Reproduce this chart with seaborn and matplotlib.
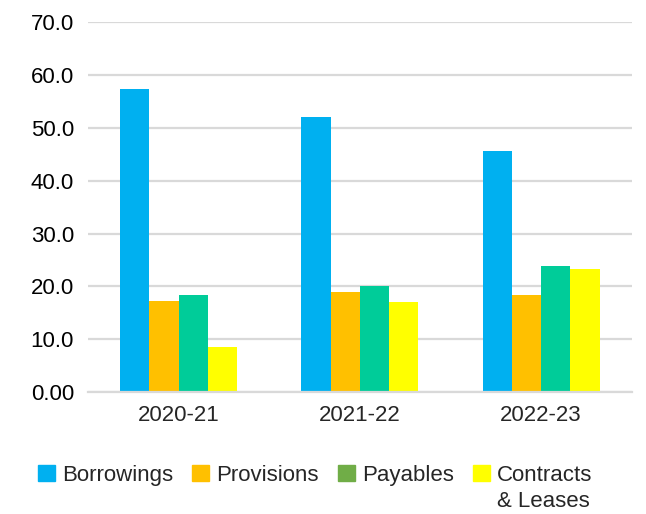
import pandas as pd
import matplotlib
matplotlib.use("Agg")
import matplotlib.pyplot as plt
import matplotlib.patches as mpatches
from matplotlib.ticker import FixedLocator, FuncFormatter
import seaborn as sns

years = ["2020-21", "2021-22", "2022-23"]
borrowings = [57.4, 52.1, 45.6]
provisions = [17.3, 18.9, 18.4]
payables = [18.4, 20.1, 23.9]
contracts = [8.6, 17.0, 23.3]

series_names = ["Borrowings", "Provisions", "Payables", "Contracts & Leases"]
legend_labels = ["Borrowings", "Provisions", "Payables", "Contracts"]
bar_colors = ["#00B0F0", "#FFC000", "#00CC99", "#FFFF00"]
legend_colors = ["#00B0F0", "#FFC000", "#70AD47", "#FFFF00"]

rows = []
for name, vals in zip(series_names, [borrowings, provisions, payables, contracts]):
    for yr, v in zip(years, vals):
        rows.append({"year": yr, "series": name, "value": v})
df = pd.DataFrame(rows)

sns.set_style("white")
plt.rcParams["font.family"] = ["Liberation Sans", "DejaVu Sans"]

fig = plt.figure(figsize=(6.46, 5.14), dpi=100)
ax = fig.add_axes([0.136, 0.237, 0.842, 0.72])

sns.barplot(data=df, x="year", y="value", hue="series", hue_order=series_names,
            palette=bar_colors, width=0.646, gap=0, saturation=1, ax=ax,
            edgecolor="none", linewidth=0)
ax.get_legend().remove()

ax.set_ylim(0, 70)
ax.set_xlim(-0.5, 2.5)
ax.set_yticks(range(0, 71, 10))
ax.yaxis.set_major_formatter(FuncFormatter(lambda v, p: "0.00" if v == 0 else f"{v:.1f}"))
ax.grid(axis="y", color="#d9d9d9", linewidth=1.6)
ax.set_axisbelow(True)
ax.set_xlabel("")
ax.set_ylabel("")

for s in ["top", "right", "left"]:
    ax.spines[s].set_visible(False)
ax.spines["bottom"].set_color("#d9d9d9")
ax.spines["bottom"].set_linewidth(1.6)

ax.tick_params(axis="y", length=0, labelsize=16, pad=10, colors="#000000")
ax.tick_params(axis="x", which="major", length=0, labelsize=16, pad=9)
ax.xaxis.set_minor_locator(FixedLocator([-0.5, 0.5, 1.5, 2.5]))
ax.tick_params(axis="x", which="minor", length=8, width=1.6, color="#d9d9d9", direction="out")

# legend: second row only carries the wrapped part of the last label
handles, labels = [], []
for c, n in zip(legend_colors, legend_labels):
    handles.append(mpatches.Patch(color=c))
    labels.append(n)
    handles.append(mpatches.Patch(facecolor="none", edgecolor="none"))
    labels.append("& Leases" if n == "Contracts" else "")
fig.legend(handles=handles, labels=labels, loc="upper left", bbox_to_anchor=(0.045, 0.113),
           ncol=4, frameon=False, fontsize=16, handlelength=0.77, handleheight=0.77,
           handletextpad=0.32, columnspacing=0.85, labelspacing=0.22, borderaxespad=0)

fig.savefig("out.png", dpi=100)
